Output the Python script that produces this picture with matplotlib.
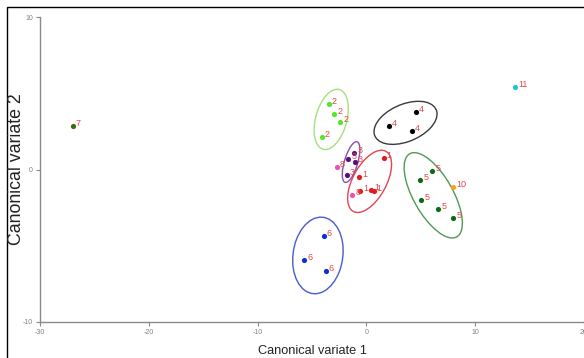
import numpy as np
import matplotlib
matplotlib.use("Agg")
import matplotlib.pyplot as plt
from matplotlib.patches import Ellipse, Rectangle

plt.rcParams['font.family'] = ['Liberation Sans', 'DejaVu Sans']
plt.rcParams['axes.unicode_minus'] = False

# Canonical variate scores per accession, with group labels
cv1 = [1.59, -0.67, -0.58, 0.46, 0.67,          # group 1
       -3.47, -2.97, -2.39, -4.11,              # group 2
       -1.13, -1.68, -1.04, -1.78,              # group 3
       4.54, 2.05, 4.20,                        # group 4
       6.07, 4.97, 5.06, 6.62, 8.00,            # group 5
       -3.93, -5.70, -3.74,                     # group 6
       -27.0,                                   # group 7
       -2.73, -1.29,                            # group 8
       7.94,                                    # group 10
       13.7]                                    # group 11
cv2 = [0.77, -0.48, -1.42, -1.36, -1.40,
       4.31, 3.61, 3.10, 2.12,
       1.10, 0.72, 0.50, -0.37,
       3.80, 2.84, 2.54,
       -0.07, -0.66, -1.97, -2.56, -3.20,
       -4.35, -5.92, -6.64,
       2.82,
       0.15, -1.64,
       -1.13,
       5.40]
group = [1, 1, 1, 1, 1,
         2, 2, 2, 2,
         3, 3, 3, 3,
         4, 4, 4,
         5, 5, 5, 5, 5,
         6, 6, 6,
         7,
         8, 8,
         10,
         11]

point_colors = {1: '#e31a1c', 2: '#55e62a', 3: '#5b1078', 4: '#000000',
                5: '#0a6b12', 6: '#0a2fd6', 7: '#3f6b10', 8: '#ee4fb0',
                10: '#f5a21c', 11: '#20c4d2'}
ellipse_colors = {1: '#e0474c', 2: '#a6e07e', 3: '#8a4fae', 4: '#3a3a3a',
                  5: '#4f9a55', 6: '#4a5ad0'}
ellipse_groups = [1, 2, 3, 4, 5, 6]

x = np.array(cv1)
y = np.array(cv2)
g = np.array(group)

fig = plt.figure(figsize=(5.84, 3.58), dpi=100)
ax = fig.add_axes([40/584, 36/358, 544/584, 305/358])

# 90% confidence ellipses computed from the group scores
k = np.sqrt(-2 * np.log(0.10))
for grp in ellipse_groups:
    m = g == grp
    pts = np.column_stack([x[m], y[m]])
    c = pts.mean(axis=0)
    cov = np.cov(pts, rowvar=False)
    vals, vecs = np.linalg.eigh(cov)
    order = vals.argsort()[::-1]
    vals, vecs = vals[order], vecs[:, order]
    ang = np.degrees(np.arctan2(vecs[1, 0], vecs[0, 0]))
    e = Ellipse(c, 2 * k * np.sqrt(vals[0]), 2 * k * np.sqrt(vals[1]), angle=ang,
                fill=False, edgecolor=ellipse_colors[grp], lw=1.0, zorder=2)
    ax.add_patch(e)

for xi, yi, gi in zip(x, y, g):
    ax.scatter(xi, yi, s=14, color=point_colors[gi], zorder=3, linewidths=0)
    ax.annotate(str(gi), (xi, yi), xytext=(2.2, 1.8), textcoords='offset points',
                ha='left', va='center', fontsize=6.5, color='#e04a4a', zorder=4)

ax.set_xlim(-30, 20)
ax.set_ylim(-10, 10)
ax.set_xticks([-30, -20, -10, 0, 10, 20])
ax.set_yticks([-10, 0, 10])
for s in ['top', 'right']:
    ax.spines[s].set_visible(False)
for s in ['left', 'bottom']:
    ax.spines[s].set_color('#8a8a8a')
    ax.spines[s].set_linewidth(1.0)
ax.tick_params(axis='both', length=3, width=0.8, color='#8a8a8a',
               labelsize=5, labelcolor='#808080', pad=2)

fig.text(312/584, 1 - 351/358, 'Canonical variate 1', ha='center', va='center',
         fontsize=9.2, color='#222222')
fig.text(17/584, 1 - 169/358, 'Canonical variate 2', ha='center', va='center',
         rotation=90, fontsize=12.8, color='#222222')

fig.add_artist(Rectangle((7/584, -0.05), 1.2, 1 - 7/358 + 0.05,
                         transform=fig.transFigure, fill=False,
                         edgecolor='black', lw=1.0))

fig.savefig('out.png', dpi=100)
